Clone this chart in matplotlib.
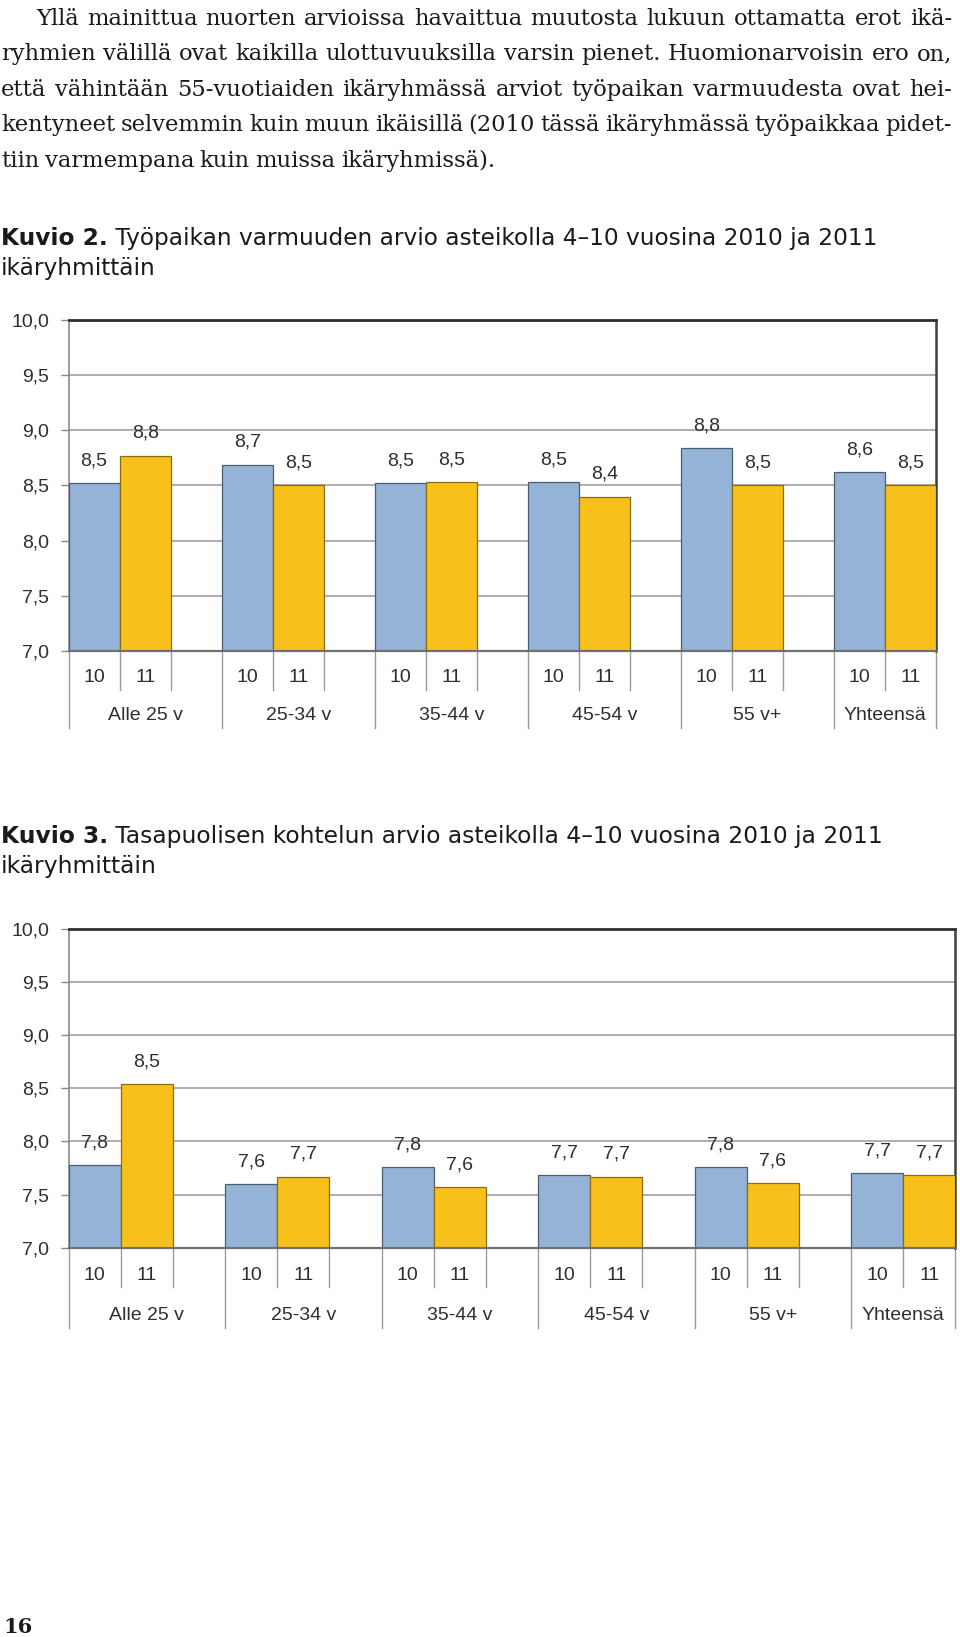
import numpy as np
import matplotlib
matplotlib.use("Agg")
import matplotlib.pyplot as plt
import matplotlib.transforms as mtransforms
from matplotlib.lines import Line2D

# --- data ---
age_groups = ["Alle 25 v", "25-34 v", "35-44 v", "45-54 v", "55 v+", "Yhteensä"]
year_labels = ["10", "11"]
security_2010 = [8.52, 8.69, 8.52, 8.53, 8.84, 8.62]
security_2011 = [8.77, 8.50, 8.53, 8.40, 8.50, 8.50]
fairness_2010 = [7.78, 7.60, 7.76, 7.68, 7.76, 7.70]
fairness_2011 = [8.54, 7.67, 7.57, 7.67, 7.61, 7.68]
y_ticks = [7.0, 7.5, 8.0, 8.5, 9.0, 9.5, 10.0]

body_lines = [
    "Yllä mainittua nuorten arvioissa havaittua muutosta lukuun ottamatta erot ikä-",
    "ryhmien välillä ovat kaikilla ulottuvuuksilla varsin pienet. Huomionarvoisin ero on,",
    "että vähintään 55-vuotiaiden ikäryhmässä arviot työpaikan varmuudesta ovat hei-",
    "kentyneet selvemmin kuin muun ikäisillä (2010 tässä ikäryhmässä työpaikkaa pidet-",
    "tiin varmempana kuin muissa ikäryhmissä).",
]
title2 = ("Kuvio 2.", " Työpaikan varmuuden arvio asteikolla 4–10 vuosina 2010 ja 2011", "ikäryhmittäin")
title3 = ("Kuvio 3.", " Tasapuolisen kohtelun arvio asteikolla 4–10 vuosina 2010 ja 2011", "ikäryhmittäin")

W, H = 960, 1637
BLUE = "#95b3d7"
YELLOW = "#f8c01b"
CHART_FONT = "Liberation Sans"
TXT = "#2e2e2e"

fig = plt.figure(figsize=(W / 100, H / 100), dpi=100)
renderer = fig.canvas.get_renderer()


def fx(px):
    return px / W


def fy(px):
    return 1 - px / H


def width_of(t):
    return t.get_window_extent(renderer=renderer).width


# --- body text, justified ---
def body_line(line, x0, x1, baseline, justify):
    words = line.split(" ")
    items = [fig.text(0, fy(baseline), w, fontsize=16.3, family="DejaVu Serif",
                      color="#1a1a1a", va="baseline") for w in words]
    widths = [width_of(t) for t in items]
    if justify and len(words) > 1:
        gap = (x1 - x0 - sum(widths)) / (len(words) - 1)
    else:
        gap = 5.5
    x = x0
    for t, w in zip(items, widths):
        t.set_x(fx(x))
        x += w + gap


baselines = [25, 60, 96, 131, 167]
for i, (line, b) in enumerate(zip(body_lines, baselines)):
    body_line(line, 36 if i == 0 else 1, 952, b, i < len(body_lines) - 1)


# --- figure titles ---
def title(parts, y1, y2, target):
    size = 16
    t1 = fig.text(fx(1), fy(y1), parts[0], fontsize=size, family="DejaVu Sans",
                  weight="bold", color="#1a1a1a", va="baseline")
    t2 = fig.text(0, fy(y1), parts[1], fontsize=size, family="DejaVu Sans",
                  color="#1a1a1a", va="baseline")
    total = width_of(t1) + width_of(t2)
    size = size * target / total
    t1.set_fontsize(size)
    t2.set_fontsize(size)
    t2.set_x(fx(1 + width_of(t1)))
    fig.text(fx(1), fy(y2), parts[2], fontsize=size, family="DejaVu Sans",
             color="#1a1a1a", va="baseline")


title(title2, 245, 275, 880)
title(title3, 843, 873, 885)


# --- charts ---
def chart(rect, vals10, vals11, below):
    ax = fig.add_axes(rect)
    x = np.arange(len(age_groups))
    bw = 1 / 3
    ax.bar(x, vals10, width=bw, align="edge", color=BLUE, edgecolor="#4d5d70",
           linewidth=0.9, zorder=3)
    ax.bar(x + bw, vals11, width=bw, align="edge", color=YELLOW, edgecolor="#8a6d10",
           linewidth=0.9, zorder=3)
    for xs, vals in ((x + bw / 2, vals10), (x + 1.5 * bw, vals11)):
        for xi, v in zip(xs, vals):
            ax.annotate(f"{v:.1f}".replace(".", ","), (xi, v), xytext=(0, 16),
                        textcoords="offset points", ha="center", va="center",
                        fontsize=14, family=CHART_FONT, color=TXT)
    ax.set_xlim(0, len(age_groups) - 1 + 2 * bw)
    ax.set_ylim(7, 10)
    ax.set_yticks(y_ticks)
    ax.set_yticklabels([f"{t:.1f}".replace(".", ",") for t in y_ticks],
                       fontsize=14, family=CHART_FONT, color=TXT)
    ax.set_xticks([])
    ax.tick_params(axis="y", length=5.8, width=1, color="#888888", pad=8.4)
    ax.yaxis.grid(True, color="#a8a8a8", linewidth=1.3)
    ax.set_axisbelow(True)
    ax.spines["top"].set_color("#303030")
    ax.spines["top"].set_linewidth(2)
    ax.spines["right"].set_color("#404040")
    ax.spines["right"].set_linewidth(1.8)
    ax.spines["left"].set_color("#8a8a8a")
    ax.spines["left"].set_linewidth(1.2)
    ax.spines["bottom"].set_color("#707070")
    ax.spines["bottom"].set_linewidth(1.6)
    ax.spines["bottom"].set_zorder(4)

    # category table under the axis
    y0, sub_end, cat_end, yr_y, cat_y = below
    trans = mtransforms.blended_transform_factory(ax.transData, fig.transFigure)
    right = len(age_groups) - 1 + 2 * bw
    for i in range(len(age_groups)):
        for xs, end in ((i, cat_end), (i + bw, sub_end), (i + 2 * bw, sub_end)):
            if abs(xs - right) < 1e-9:
                end = cat_end
            ax.add_artist(Line2D([xs, xs], [fy(y0), fy(end)], transform=trans,
                                 color="#9a9a9a", linewidth=1, clip_on=False))
        for k, lab in enumerate(year_labels):
            ax.text(i + (k + 0.5) * bw, fy(yr_y), lab, transform=trans, ha="center",
                    va="center", fontsize=14, family=CHART_FONT, color=TXT)
        cx = (i + min(i + 1, right)) / 2
        ax.text(cx, fy(cat_y), age_groups[i], transform=trans, ha="center",
                va="center", fontsize=14, family=CHART_FONT, color=TXT)
    return ax


chart([fx(68.6), fy(651), fx(936 - 68.6), (651 - 320) / H],
      security_2010, security_2011, (651, 690, 728, 677, 715))
chart([fx(68.6), fy(1247.7), fx(955.5 - 68.6), (1247.7 - 929) / H],
      fairness_2010, fairness_2011, (1247.7, 1287, 1328, 1275, 1315))

# page number
fig.text(fx(3), fy(1633), "16", fontsize=15, family="DejaVu Serif", weight="bold",
         color="#1a1a1a", va="baseline")

fig.savefig("out.png", dpi=100)
